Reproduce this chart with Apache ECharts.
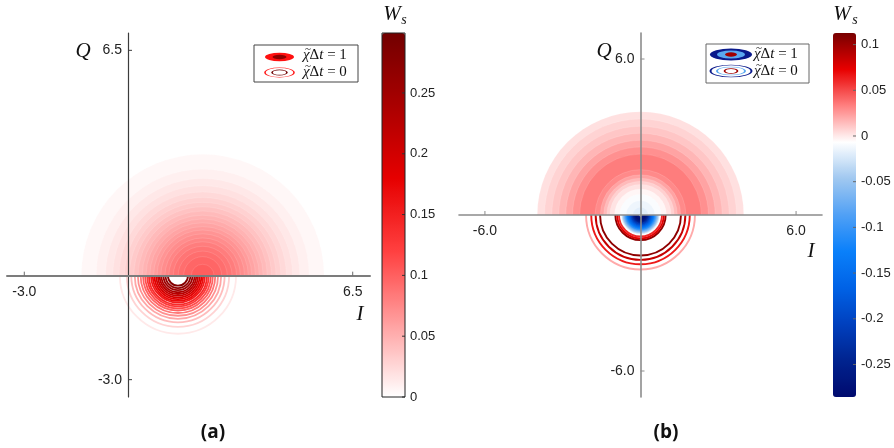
<!DOCTYPE html>
<html>
<head>
<meta charset="utf-8">
<script src="https://cdn.jsdelivr.net/npm/echarts@6/dist/echarts.min.js"></script>
<style>
  html, body { margin: 0; padding: 0; background: #ffffff; }
  #chart { width: 894px; height: 448px; }
</style>
</head>
<body>
<div id="chart"></div>
<script>
// ---- Panel (a): Wigner function W_s, filled upper half and contour lines in the lower half ----
const aFillCenter = [2.16, 0];
const aFillRadius = [3.51, 3.08, 2.81, 2.60, 2.42, 2.26, 2.12, 1.99, 1.87, 1.75, 1.64,
                     1.53, 1.42, 1.32, 1.21, 1.09, 0.98, 0.85, 0.71, 0.55, 0.33];
const aFillLevel  = [0.0048, 0.0096, 0.0144, 0.0192, 0.0240, 0.0288, 0.0336, 0.0384, 0.0432, 0.0480, 0.0528,
                     0.0576, 0.0624, 0.0672, 0.0720, 0.0768, 0.0816, 0.0864, 0.0912, 0.0960, 0.1008];
const aLineCenter = [1.445, 0];
const aLineRadius = [1.68, 1.48, 1.35, 1.25, 1.16, 1.08, 1.01, 0.95, 0.89, 0.84,
                     0.78, 0.73, 0.68, 0.63, 0.58, 0.53, 0.48, 0.42, 0.36, 0.29];
const aLineLevel  = [0.014, 0.028, 0.042, 0.056, 0.070, 0.084, 0.098, 0.112, 0.126, 0.140,
                     0.154, 0.168, 0.182, 0.196, 0.210, 0.224, 0.238, 0.252, 0.266, 0.280];
const aAxisRange = [-3.5, 7];
const aTicks = [-3, 6.5];
const aBarRange = [0, 0.2993];
const aBarTicks = [0, 0.05, 0.1, 0.15, 0.2, 0.25];

// ---- Panel (b) ----
const bFillCenter = [0, 0];
const bFillRadius = [3.98, 3.70, 3.42, 3.15, 2.88, 2.62, 2.35, 1.75, 1.55, 1.42, 1.30, 1.18, 1.00, 0.80, 0.55, 0.30];
const bFillLevel  = [0.003, 0.007, 0.011, 0.016, 0.022, 0.028, 0.034, 0.030, 0.022, 0.015, 0.008, 0.002,
                     -0.004, -0.009, -0.014, -0.019];
const bLineCenter = [0, 0];
const bLineRadius = [2.10, 1.90, 1.73, 1.56, 0.97, 0.90, 0.83,
                     0.73, 0.69, 0.65, 0.61, 0.57, 0.53, 0.49, 0.45, 0.41, 0.37, 0.33, 0.29, 0.25, 0.21, 0.17, 0.13, 0.09];
const bLineLevel  = [0.020, 0.065, 0.085, 0.105, 0.105, 0.075, 0.060,
                     -0.010, -0.030, -0.050, -0.070, -0.090, -0.110, -0.130, -0.150, -0.170, -0.190, -0.210, -0.230, -0.250, -0.265, -0.275, -0.280, -0.270];
const bAxisRange = [-7, 7];
const bTicks = [-6, 6];
const bBarRange = [-0.2856, 0.1127];
const bBarTicks = [-0.25, -0.2, -0.15, -0.1, -0.05, 0, 0.05, 0.1];

// colour maps
const redMap = ['#ffffff', '#ffa0a0', '#ff4040', '#e60000', '#aa0000', '#730000'];
const divMap = ['#000a6e', '#00238f', '#0040be', '#0062e6', '#0a80fa', '#50a0f5', '#a0c8f0',
                '#ffffff', '#ff8080', '#e80000', '#780000'];

// plot boxes
const boxA = { left: 7, top: 33, width: 363, height: 364 };
const boxB = { left: 459, top: 33, width: 363, height: 364 };

function rings(center, radius, level) {
  return radius.map((r, i) => [center[0], center[1], r, level[i]]);
}

// filled upper half-disc, colour from the visual map
function upperBand(params, api) {
  const c = api.coord([api.value(0), api.value(1)]);
  const r = api.size([api.value(2), 0])[0];
  return {
    type: 'sector',
    shape: { cx: c[0], cy: c[1], r0: 0, r: r, startAngle: Math.PI, endAngle: 2 * Math.PI, clockwise: true },
    style: { fill: api.visual('color'), stroke: 'rgba(255,255,255,0.25)', lineWidth: 0.5 }
  };
}
// contour line in the lower half
function lowerLine(width) {
  return function (params, api) {
    const c = api.coord([api.value(0), api.value(1)]);
    const r = api.size([api.value(2), 0])[0];
    return {
      type: 'arc',
      shape: { cx: c[0], cy: c[1], r: r, startAngle: 0, endAngle: Math.PI, clockwise: true },
      style: { stroke: api.visual('color'), fill: null, lineWidth: width }
    };
  };
}
// short tick marks: dir = 'x' (on the horizontal axis, pointing up), 'y' (pointing right),
// 'bar' (colour-bar right edge, pointing left)
function tickMark(dir, len, color) {
  return function (params, api) {
    const v = api.value(0);
    let p, q;
    if (dir === 'x') { p = api.coord([v, 0]); q = [p[0], p[1] - len]; }
    else if (dir === 'y') { p = api.coord([0, v]); q = [p[0] + len, p[1]]; }
    else { p = api.coord([1, v]); q = [p[0] - len, p[1]]; }
    return { type: 'line', shape: { x1: p[0], y1: p[1], x2: q[0], y2: q[1] },
             style: { stroke: color, lineWidth: 1 } };
  };
}
function tickSeries(grid, values, dir, len, color) {
  return { type: 'custom', xAxisIndex: grid, yAxisIndex: grid, z: 20, silent: true,
           renderItem: tickMark(dir, len, color), data: values.map(v => [v]) };
}

const tickFont = { fontFamily: 'Liberation Sans', fontSize: 14, color: '#222' };
const barFont = { fontFamily: 'Liberation Sans', fontSize: 13, color: '#222' };

// axes cross at the origin: shift each axis from the box edge to the zero line
function crossOffset(range, length) {
  return -length * (0 - range[0]) / (range[1] - range[0]);
}
function mainAxis(grid, range, ticks, lineColor, lineWidth, margin, offset) {
  return {
    gridIndex: grid, type: 'value', min: range[0], max: range[1], z: 10,
    offset: offset,
    axisLine: { onZero: false, lineStyle: { color: lineColor, width: lineWidth } },
    axisTick: { show: false },
    axisLabel: Object.assign({ customValues: ticks, margin: margin, formatter: v => v.toFixed(1) }, tickFont),
    splitLine: { show: false }
  };
}
function barAxis(grid, range, ticks) {
  return {
    gridIndex: grid, type: 'value', position: 'right', min: range[0], max: range[1],
    axisLine: { show: false },
    axisTick: { show: false },
    axisLabel: Object.assign({ customValues: ticks, margin: 5 }, barFont),
    splitLine: { show: false }
  };
}
function hiddenAxis(grid) {
  return { gridIndex: grid, type: 'value', show: false, min: 0, max: 1 };
}

const serif = 'Liberation Serif';
function legendLabel(x, y, val) {
  return [
    {
      type: 'text', x: x, y: y, z: 101,
      style: {
        text: '{i|χ}{n|Δ}{i|t}{n| = ' + val + '}',
        verticalAlign: 'middle',
        rich: {
          i: { fontFamily: serif, fontStyle: 'italic', fontSize: 15, fill: '#111' },
          n: { fontFamily: serif, fontSize: 15, fill: '#111' }
        }
      }
    },
    { type: 'text', x: x + 5, y: y - 6, z: 101,
      style: { text: '~', fontFamily: serif, fontSize: 11, fill: '#111', align: 'center', verticalAlign: 'middle' } }
  ];
}
function ell(cx, cy, rx, ry, style) {
  return { type: 'circle', x: cx, y: cy, scaleY: ry / rx, z: 101,
           shape: { cx: 0, cy: 0, r: rx }, style: Object.assign({ strokeNoScale: true }, style) };
}
function mathText(x, y, t, size) {
  return { type: 'text', x: x, y: y, z: 101,
           style: { text: t, fontFamily: serif, fontStyle: 'italic', fontSize: size, fill: '#111',
                    align: 'center', verticalAlign: 'middle' } };
}
function caption(x, t) {
  return { type: 'text', x: x, y: 433, z: 101,
           style: { text: t, fontFamily: 'Open Sans', fontWeight: 'bold', fontSize: 19, fill: '#111',
                    align: 'center', verticalAlign: 'middle' } };
}

const chart = echarts.init(document.getElementById('chart'), null, { renderer: 'canvas' });
chart.setOption({
  backgroundColor: '#ffffff',
  animation: false,
  grid: [
    Object.assign({ outerBoundsMode: 'none', containLabel: false }, boxA),
    Object.assign({ outerBoundsMode: 'none', containLabel: false }, boxB),
    { left: 382, top: 33, width: 23, height: 364, outerBoundsMode: 'none', containLabel: false },
    { left: 833, top: 33, width: 23, height: 364, outerBoundsMode: 'none', containLabel: false }
  ],
  xAxis: [
    mainAxis(0, aAxisRange, aTicks, '#7c7c7c', 2, 9, crossOffset(aAxisRange, boxA.height)),
    mainAxis(1, bAxisRange, bTicks, '#8c8c8c', 1.6, 9, crossOffset(bAxisRange, boxB.height)),
    hiddenAxis(2), hiddenAxis(3)
  ],
  yAxis: [
    mainAxis(0, aAxisRange, aTicks, '#3c3c3c', 1.2, 6, crossOffset(aAxisRange, boxA.width)),
    mainAxis(1, bAxisRange, bTicks, '#8c8c8c', 1.6, 6, crossOffset(bAxisRange, boxB.width)),
    barAxis(2, aBarRange, aBarTicks),
    barAxis(3, bBarRange, bBarTicks)
  ],
  visualMap: [
    { type: 'continuous', seriesIndex: [0, 1], dimension: 3, min: aBarRange[0], max: aBarRange[1],
      inRange: { color: redMap }, left: 382, top: 33, itemWidth: 23, itemHeight: 364,
      padding: 0, calculable: false, hoverLink: false, text: null, orient: 'vertical' },
    { type: 'continuous', seriesIndex: [2, 3], dimension: 3, min: bBarRange[0], max: bBarRange[1],
      inRange: { color: divMap }, left: 833, top: 33, itemWidth: 23, itemHeight: 364,
      padding: 0, calculable: false, hoverLink: false, text: null, orient: 'vertical' }
  ],
  series: [
    { type: 'custom', name: 'a-fill', xAxisIndex: 0, yAxisIndex: 0, z: 1,
      renderItem: upperBand, data: rings(aFillCenter, aFillRadius, aFillLevel) },
    { type: 'custom', name: 'a-lines', xAxisIndex: 0, yAxisIndex: 0, z: 1,
      renderItem: lowerLine(1.8), data: rings(aLineCenter, aLineRadius, aLineLevel) },
    { type: 'custom', name: 'b-fill', xAxisIndex: 1, yAxisIndex: 1, z: 1,
      renderItem: upperBand, data: rings(bFillCenter, bFillRadius, bFillLevel) },
    { type: 'custom', name: 'b-lines', xAxisIndex: 1, yAxisIndex: 1, z: 1,
      renderItem: lowerLine(1.9), data: rings(bLineCenter, bLineRadius, bLineLevel) },
    tickSeries(0, aTicks, 'x', 4, '#6a6a6a'),
    tickSeries(0, aTicks, 'y', 4, '#3c3c3c'),
    tickSeries(1, bTicks, 'x', 4, '#8c8c8c'),
    tickSeries(1, bTicks, 'y', 4, '#8c8c8c'),
    tickSeries(2, aBarTicks, 'bar', 3, '#333333'),
    tickSeries(3, bBarTicks, 'bar', 3, '#666666')
  ],
  graphic: [].concat(
    [
      // colour bar frame (a)
      { type: 'rect', z: 100, shape: { x: 382, y: 33, width: 23, height: 364 },
        style: { fill: null, stroke: '#222', lineWidth: 1 } },
      // W_s titles
      mathText(392, 14, 'W', 21), mathText(404, 20, 's', 14),
      mathText(842, 14, 'W', 21), mathText(855, 20, 's', 14),
      // axis names
      mathText(83, 51, 'Q', 21), mathText(360, 314, 'I', 21),
      mathText(604, 51, 'Q', 21), mathText(811, 251, 'I', 21),
      // legend (a)
      { type: 'rect', z: 100, shape: { x: 254, y: 45, width: 104, height: 37 },
        style: { fill: '#ffffff', stroke: '#444', lineWidth: 1 } },
      ell(279.5, 57, 14.5, 4.2, { fill: '#ff1010' }),
      ell(279.5, 57, 7, 2.2, { fill: '#8e0000' }),
      ell(279.5, 72.5, 14.5, 4.8, { fill: '#ffffff', stroke: '#ff1a1a', lineWidth: 1.6 }),
      ell(279.5, 72.5, 7.5, 2.6, { fill: '#ffffff', stroke: '#6e0000', lineWidth: 1.6 }),
      // legend (b)
      { type: 'rect', z: 100, shape: { x: 706, y: 44, width: 103, height: 39 },
        style: { fill: '#ffffff', stroke: '#666', lineWidth: 1 } },
      ell(731, 54.5, 21, 6, { fill: '#0a1a8c' }),
      ell(731, 54.5, 14, 4, { fill: '#5aa8f0' }),
      ell(731, 54.5, 6, 2.2, { fill: '#a00000' }),
      ell(731, 71, 20.5, 6, { fill: '#ffffff', stroke: '#0a1a8c', lineWidth: 2 }),
      ell(731, 71, 14, 4, { fill: '#ffffff', stroke: '#5aa8f0', lineWidth: 2 }),
      ell(731, 71, 6.5, 2.4, { fill: '#ffffff', stroke: '#a00000', lineWidth: 1.8 }),
      // panel captions
      caption(213, '(a)'), caption(666, '(b)')
    ],
    legendLabel(303, 55.5, 1), legendLabel(303, 72.5, 0),
    legendLabel(754, 54.5, 1), legendLabel(754, 71.5, 0)
  )
});
</script>
</body>
</html>
